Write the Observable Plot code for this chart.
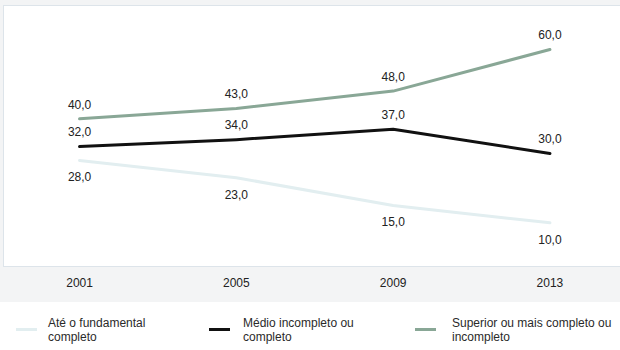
<!DOCTYPE html>
<html>
<head>
<meta charset="utf-8">
<script src="https://cdn.jsdelivr.net/npm/d3@7"></script>
<script src="https://cdn.jsdelivr.net/npm/@observablehq/plot@0.6"></script>
<style>
  html, body { margin: 0; padding: 0; background: #ffffff; }
  #wrap { width: 620px; height: 350px; position: relative; overflow: hidden; font-family: "Liberation Sans", Arial, sans-serif; }
  #chart svg { display: block; }
  #legend { position: relative; width: 620px; height: 48px; background: #ffffff; }
  .sw { position: absolute; width: 21px; height: 3px; }
  .lab { position: absolute; font-size: 12px; line-height: 14px; color: #2a2a2a; }
</style>
</head>
<body>
<div id="wrap">
  <div id="chart"></div>
  <div id="legend"></div>
</div>
<script>
const years = [2001, 2005, 2009, 2013];
const seriesNames = ["Até o fundamental completo", "Médio incompleto ou completo", "Superior ou mais completo ou incompleto"];
const seriesLabels = [["Até o fundamental", "completo"], ["Médio incompleto ou", "completo"], ["Superior ou mais completo ou", "incompleto"]];
const colors = ["#e2eef0", "#111111", "#89a796"];
const fundamental = [28, 23, 15, 10];
const medio = [32, 34, 37, 30];
const superior = [40, 43, 48, 60];

const values = [fundamental, medio, superior];
const rows = [];
values.forEach((vals, i) => vals.forEach((v, j) => rows.push({year: years[j], value: v, series: seriesNames[i], idx: i})));

const fmt = v => d3.format(".1f")(v).replace(".", ",");

const chart = Plot.plot({
  width: 620,
  height: 302,
  marginTop: 5,
  marginLeft: 3,
  marginRight: 0,
  marginBottom: 36,
  style: { background: "#f3f4f5", fontFamily: "Liberation Sans, Arial, sans-serif", fontSize: "12px", color: "#222" },
  x: { type: "linear", domain: [1999.06, 2014.8], ticks: years, tickFormat: d => String(d), label: null },
  y: { domain: [-2.6, 72.7], axis: null },
  color: { domain: seriesNames, range: colors },
  marks: [
    Plot.frame({ fill: "#ffffff", stroke: "#dde4ea", strokeWidth: 1 }),
    Plot.axisX({ ticks: years, tickSize: 0, tickPadding: 12, fontSize: 12, fill: "#222", label: null, tickFormat: d => String(d), style: { letterSpacing: "0.4px" } }),
    Plot.line(rows, { x: "year", y: "value", z: "series", stroke: "series", strokeWidth: 3, curve: "linear" }),
    Plot.text(rows.filter(d => d.idx === 0), { x: "year", y: "value", text: d => fmt(d.value), dy: 17, fill: "#222", fontSize: 12, style: { letterSpacing: "0.5px" } }),
    Plot.text(rows.filter(d => d.idx !== 0), { x: "year", y: "value", text: d => fmt(d.value), dy: -14, fill: "#222", fontSize: 12, style: { letterSpacing: "0.5px" } })
  ]
});
document.getElementById("chart").appendChild(chart);

const legend = document.getElementById("legend");
const swX = [16, 209, 415];
const labX = [48, 243, 452];
seriesNames.forEach((name, i) => {
  const sw = document.createElement("div");
  sw.className = "sw";
  sw.style.left = swX[i] + "px";
  sw.style.top = "26px";
  sw.style.background = colors[i];
  legend.appendChild(sw);
  const lab = document.createElement("div");
  lab.className = "lab";
  lab.style.left = labX[i] + "px";
  lab.style.top = "14px";
  lab.innerHTML = seriesLabels[i].join("<br>");
  legend.appendChild(lab);
});
</script>
</body>
</html>
